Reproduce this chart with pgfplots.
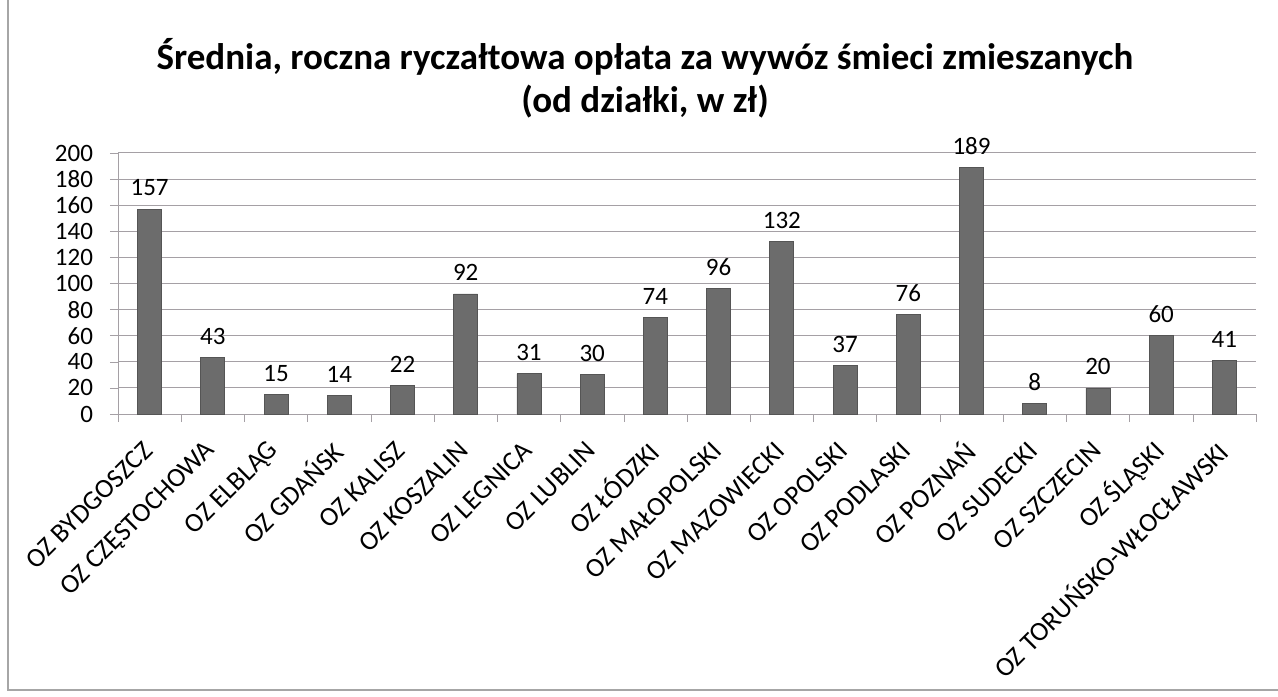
\documentclass[border=0pt]{standalone}
\usepackage{pgfplots}
\pgfplotsset{compat=1.18}
\usepackage{fontspec}
\setmainfont{Carlito}
\definecolor{barfill}{RGB}{108,108,108}
\definecolor{bardraw}{RGB}{85,85,85}
\definecolor{gridc}{RGB}{165,160,165}
\begin{document}
\begin{tikzpicture}
\path[use as bounding box] (0,0) rectangle (639pt,348pt);
\draw[gray!70, line width=0.6pt] (4pt,349pt) -- (4pt,3pt) -- (639pt,3pt);
\node[align=center, font=\fontsize{18.5}{21.5}\selectfont\bfseries] at (322.5pt,309pt)
  {Średnia, roczna ryczałtowa opłata za wywóz śmieci zmieszanych\\(od działki, w zł)};
\begin{axis}[
  at={(59pt,141pt)}, anchor=south west,
  scale only axis, width=569pt, height=130.5pt,
  xmin=-0.5, xmax=17.5, ymin=0, ymax=200,
  ytick={0,20,...,200},
  ymajorgrids, grid style={gridc, line width=0.5pt},
  axis line style={gridc},
  axis y line*=left, axis x line*=bottom,
  xtick={0,...,17},
  xticklabels={OZ BYDGOSZCZ, OZ CZĘSTOCHOWA, OZ ELBLĄG, OZ GDAŃSK, OZ KALISZ, OZ KOSZALIN, OZ LEGNICA, OZ LUBLIN, OZ ŁÓDZKI, OZ MAŁOPOLSKI, OZ MAZOWIECKI, OZ OPOLSKI, OZ PODLASKI, OZ POZNAŃ, OZ SUDECKI, OZ SZCZECIN, OZ ŚLĄSKI, OZ TORUŃSKO-WŁOCŁAWSKI},
  major x tick style={draw=none},
  minor xtick={-0.5,0.5,...,17.5},
  minor x tick style={gridc},
  minor tick length=4pt,
  major tick length=4pt,
  y tick style={gridc},
  tick align=outside,
  x tick label style={rotate=45, anchor=east, font=\fontsize{13.5}{14}\selectfont, inner sep=1pt, xshift=-8pt, yshift=-8pt},
  y tick label style={font=\fontsize{12.5}{14}\selectfont},
  yticklabel style={xshift=-5pt},
  /pgf/number format/assume math mode=true,
  nodes near coords,
  nodes near coords style={font=\fontsize{12.5}{14}\selectfont, black, yshift=3pt},
  clip=false,
]
\addplot[ybar, bar width=12pt, fill=barfill, draw=bardraw] coordinates {
(0,157) (1,43) (2,15) (3,14) (4,22) (5,92) (6,31) (7,30) (8,74) (9,96) (10,132) (11,37) (12,76) (13,189) (14,8) (15,20) (16,60) (17,41)
};
\end{axis}
\end{tikzpicture}
\end{document}
